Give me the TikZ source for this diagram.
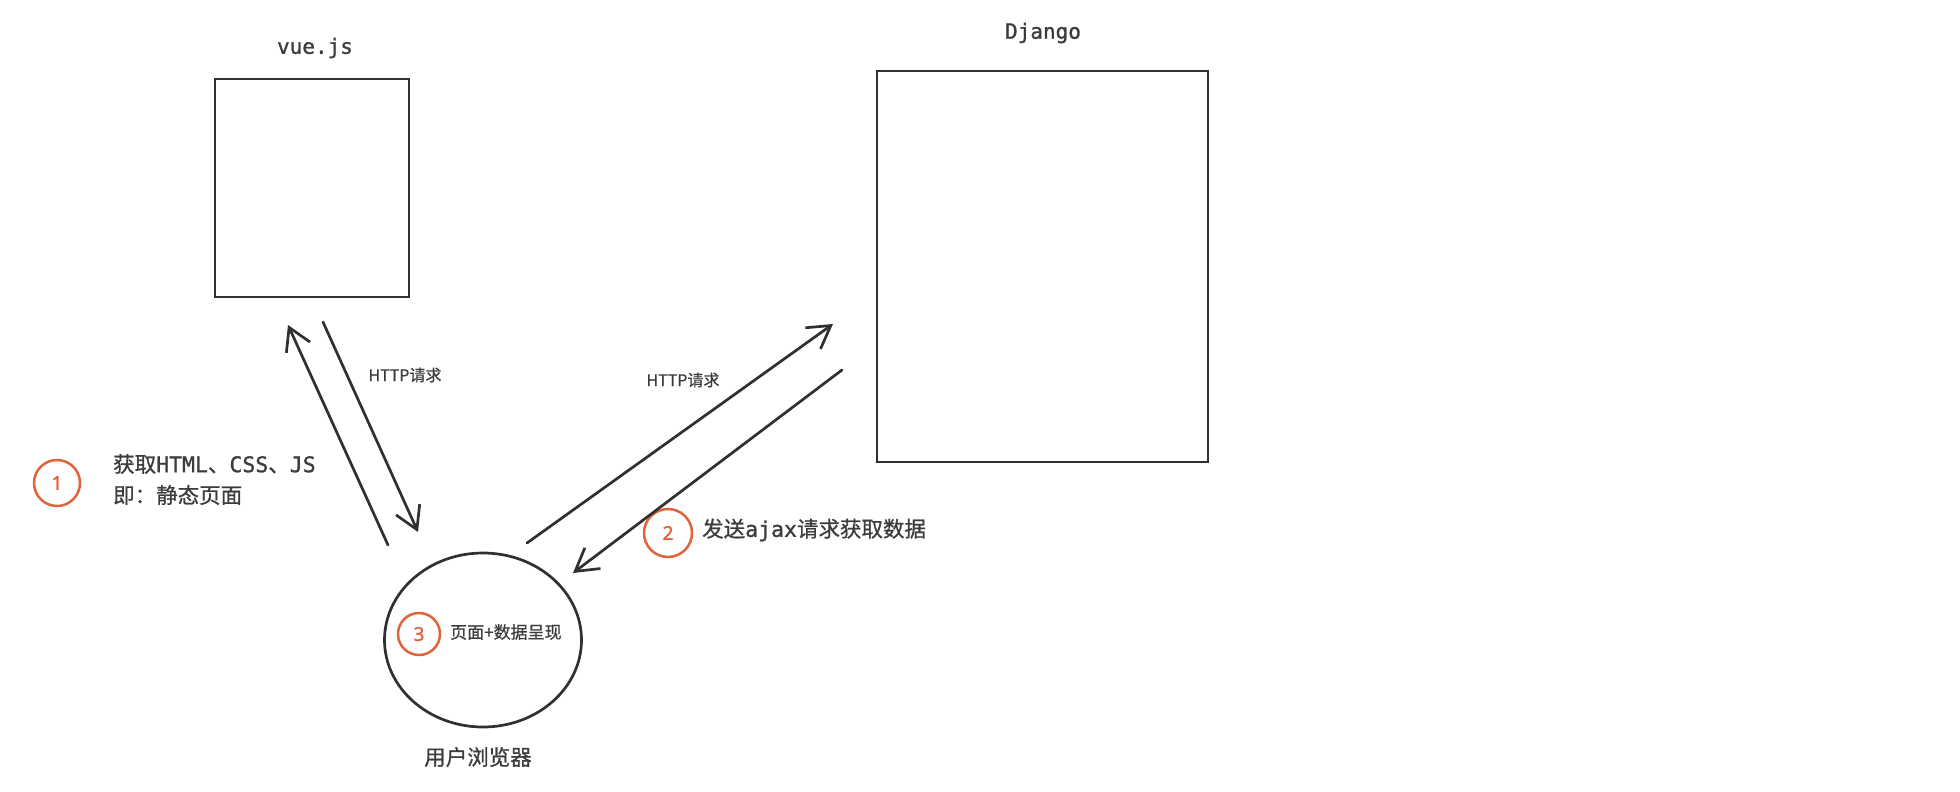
\documentclass[tikz,border=0pt]{standalone}
\usepackage{fontspec}
\setmainfont{Noto Sans}
\newfontfamily\cjk[FakeBold=0.8]{Noto Sans CJK SC}
\newfontfamily\mono[FakeBold=1.2]{DejaVu Sans Mono}
\newfontfamily\numf[FakeBold=1.5]{Noto Sans}
\usetikzlibrary{arrows.meta,shapes.geometric}
\definecolor{ink}{HTML}{303030}
\definecolor{txt}{HTML}{3C3C3C}
\definecolor{mark}{HTML}{E0643A}
\tikzset{
  box/.style={draw=ink, line width=2.2pt, inner sep=0pt},
  arr/.style={draw=ink, line width=2.7pt, line cap=round, -{Straight Barb[length=22pt,width=26pt,line width=2.7pt]}},
  num/.style={circle, draw=mark, line width=2.5pt, text=mark, inner sep=0pt, font=\numf\fontsize{19}{19}\selectfont},
  lbl/.style={text=txt, inner sep=0pt},
}
\begin{document}
\begin{tikzpicture}[x=1pt,y=-1pt]
\useasboundingbox (0,0) rectangle (1960,792);
% boxes
\node[box, minimum width=194pt, minimum height=218pt] (vue) at (312,188) {};
\node[box, minimum width=331pt, minimum height=391pt] (django) at (1042.5,266.5) {};
\node[lbl, font=\mono\fontsize{21}{21}\selectfont] (vuelbl) at (315,48) {vue.js};
\node[lbl, font=\mono\fontsize{21}{21}\selectfont] (djlbl) at (1043,33) {Django};
% browser
\node[ellipse, draw=ink, line width=2.7pt, minimum width=197pt, minimum height=174pt, inner sep=0pt] (browser) at (483,640) {};
\node[lbl, font=\cjk\fontsize{21.5}{21.5}\selectfont] (brlbl) at (478,757) {用户浏览器};
\node[num, minimum size=42pt] (n3) at (419,634) {3};
\node[lbl, anchor=west, font=\cjk\fontsize{17}{17}\selectfont] (t3) at (450,632) {页面+数据呈现};
% step 1
\node[num, minimum size=46pt] (n1) at (57,483) {1};
\node[lbl, anchor=west, font=\fontsize{21.5}{21.5}\selectfont] (t1a) at (113,464) {{\cjk 获取}{\mono HTML}{\cjk 、}{\mono CSS}{\cjk 、}{\mono JS}};
\node[lbl, anchor=west, font=\cjk\fontsize{21.5}{21.5}\selectfont] (t1b) at (113,495) {即：静态页面};
% step 2
\node[num, minimum size=48pt] (n2) at (668,533) {2};
\node[lbl, anchor=west, font=\fontsize{21.5}{21.5}\selectfont] (t2) at (702,530) {{\cjk 发送}{\mono ajax}{\cjk 请求获取数据}};
% arrow end points
\coordinate (a1s) at (388,545);
\coordinate (a1e) at (288,325);
\coordinate (a2s) at (323,322);
\coordinate (a2e) at (418,532);
\coordinate (a3s) at (527,543);
\coordinate (a3e) at (833,324);
\coordinate (a4s) at (842,370);
\coordinate (a4e) at (573,573);
\draw[arr] (a1s) -- (a1e);
\draw[arr] (a2s) -- (a2e);
\draw[arr] (a3s) -- (a3e);
\draw[arr] (a4s) -- (a4e);
\node[lbl, font=\cjk\fontsize{16}{16}\selectfont] (h1) at (405,375) {HTTP请求};
\node[lbl, font=\cjk\fontsize{16}{16}\selectfont] (h2) at (683,380) {HTTP请求};
\end{tikzpicture}
\end{document}
